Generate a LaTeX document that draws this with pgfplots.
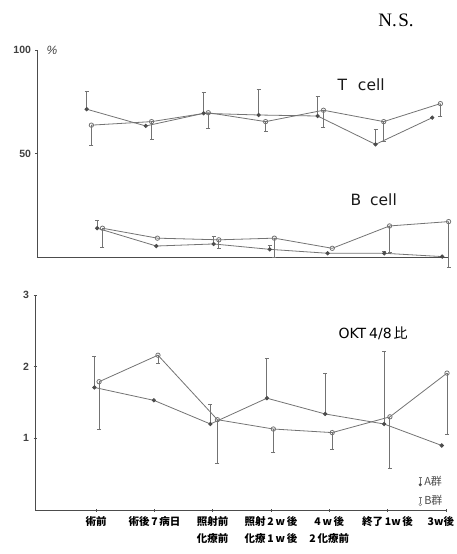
\documentclass[border=0pt]{standalone}
\usepackage{pgfplots}
\pgfplotsset{compat=1.18}
\usepackage{fontspec}
\setmainfont{Liberation Sans}
\newfontfamily\cjk{Noto Sans CJK JP}
\newfontfamily\dvs{DejaVu Sans}
\newfontfamily\serifn{Liberation Serif}
\definecolor{ln}{gray}{0.45}
\definecolor{ax}{gray}{0.3}
\pgfplotsset{
  base/.style={scale only axis, clip=false,
    axis x line=bottom, axis y line=left,
    axis line style={-, ax, line width=0.8pt},
    tick style={ax, line width=0.6pt},
    major tick length=3pt,
    /pgf/number format/assume math mode=true,
    yticklabel style={font=\bfseries\fontsize{10.5}{10}\selectfont, text=gray!50!black, xshift=-1pt},
  },
  sA/.style={ln, line width=0.8pt, mark=*, mark size=1.7pt, mark options={fill=ax, draw=ax}},
  sB/.style={ln, line width=0.8pt, mark=o, mark size=2.2pt, mark options={fill=white, draw=ln}},
  ebA/.style={draw=none, forget plot, error bars/.cd, y dir=plus, y explicit,
    error mark=-, error mark options={ln, rotate=90, line width=0.8pt, mark size=2pt},
    error bar style={ln, line width=0.9pt}},
  ebB/.style={draw=none, forget plot, error bars/.cd, y dir=minus, y explicit,
    error mark=-, error mark options={ln, rotate=90, line width=0.8pt, mark size=2pt},
    error bar style={ln, line width=0.9pt}},
}
\begin{document}
\begin{tikzpicture}
\path[use as bounding box] (0,0) rectangle (457pt,554pt);
% ---------------- top panel ----------------
\begin{axis}[base, at={(37pt,297pt)}, anchor=south west,
  width=411pt, height=207pt, xmin=-0.9, xmax=6.13, ymin=0, ymax=100,
  xtick=\empty, ytick={50,100}]
% T cell
\addplot[ebA] coordinates {(-0.05,71.4) +- (0,8.6) (1.95,69.4) +- (0,10) (2.89,68.6) +- (0,12.4) (3.9,68.1) +- (0,9.7) (4.89,54.4) +- (0,7.3)};
\addplot[ebB] coordinates {(0.03,63.7) +- (0,9.7) (1.06,65.4) +- (0,8.6) (2.03,69.7) +- (0,7.7) (3.01,65.4) +- (0,4.9) (4.0,70.9) +- (0,8.1) (5.03,65.4) +- (0,9.4) (6.0,74.1) +- (0,6)};
\addplot[sA] coordinates {(-0.05,71.4) (0.96,63.3) (1.95,69.4) (2.89,68.6) (3.9,68.1) (4.89,54.4) (5.86,67.3)};
\addplot[sB] coordinates {(0.03,63.7) (1.06,65.4) (2.03,69.7) (3.01,65.4) (4.0,70.9) (5.03,65.4) (6.0,74.1)};
% B cell
\addplot[ebA] coordinates {(0.13,13.9) +- (0,3.7) (2.12,6.3) +- (0,3.6) (3.08,3.7) +- (0,2.1) (5.04,1.8) +- (0,1.0)};
\addplot[ebB] coordinates {(0.22,13.9) +- (0,9.2) (2.21,8.3) +- (0,4.1) (3.16,9.1) +- (0,9.1) (5.13,15.0) +- (0,13) (6.14,17.1) +- (0,22)};
\addplot[sA] coordinates {(0.13,13.9) (1.14,5.3) (2.12,6.3) (3.08,3.7) (4.07,1.8) (5.04,1.8) (6.03,0.2)};
\addplot[sB] coordinates {(0.22,13.9) (1.16,9.1) (2.21,8.3) (3.16,9.1) (4.15,4.2) (5.13,15.0) (6.14,17.1)};
\end{axis}
% ---------------- bottom panel ----------------
\begin{axis}[base, at={(35pt,44pt)}, anchor=south west,
  width=412pt, height=215pt, xmin=-1.05, xmax=6.02, ymin=0, ymax=3,
  ytick={1,2,3}, xtick={0,1,2,3,4,5,6}, xtick align=center,
  xticklabels={術前, 術後\,7\,病日, 照射前\\化療前, 照射\,2\,w\,後\\化療\,1\,w\,後, 4\,w\,後\\2\,化療前, 終了\,1w\,後, 3w後\hspace*{10pt}},
  xticklabel style={font=\cjk\bfseries\fontsize{10.5}{17}\selectfont, align=center, yshift=-1pt},
  legend style={at={(axis cs:5.98,0.02)}, anchor=south east, draw=none, fill=none,
    font=\cjk\fontsize{11}{11}\selectfont, text=gray!60!black, row sep=5pt, inner sep=0pt},
  legend cell align=left]
\addplot[ebA] coordinates {(-0.03,1.71) +- (0,0.43) (1.96,1.20) +- (0,0.28) (2.93,1.56) +- (0,0.56) (3.93,1.34) +- (0,0.57) (4.94,1.20) +- (0,1.01)};
\addplot[ebB] coordinates {(0.05,1.79) +- (0,0.66) (1.06,2.16) +- (0,0.11) (2.08,1.26) +- (0,0.61) (3.04,1.13) +- (0,0.32) (4.05,1.08) +- (0,0.24) (5.04,1.30) +- (0,0.72) (6.02,1.91) +- (0,0.85)};
\addplot[sA, forget plot] coordinates {(-0.03,1.71) (0.99,1.53) (1.96,1.20) (2.93,1.56) (3.93,1.34) (4.94,1.20) (5.93,0.90)};
\addplot[sB, forget plot] coordinates {(0.05,1.79) (1.06,2.16) (2.08,1.26) (3.04,1.13) (4.05,1.08) (5.04,1.30) (6.02,1.91)};
\addlegendimage{legend image code/.code={
  \draw[ln, line width=0.9pt] (0.3cm,-3.5pt)--(0.3cm,4pt);
  \draw[ln, line width=0.8pt] (0.3cm-1.6pt,4pt)--(0.3cm+1.6pt,4pt);
  \fill[ax] (0.3cm,-3.5pt) circle (1.4pt);}}
\addlegendentry{A群}
\addlegendimage{legend image code/.code={
  \draw[ln, line width=0.9pt] (0.3cm,-3.5pt)--(0.3cm,4pt);
  \draw[ln, line width=0.8pt] (0.3cm-1.6pt,4pt)--(0.3cm+1.6pt,4pt);
  \draw[ln, fill=white] (0.3cm,-3.5pt) circle (1.4pt);}}
\addlegendentry{B群}
\end{axis}
% ---------------- texts ----------------
\node at (396pt,534pt) {\serifn\fontsize{19}{19}\selectfont N.\hspace{1.5pt}S.};
\node[gray!50!black] at (52pt,504pt) {\fontsize{12}{12}\selectfont\itshape \%};
\node[anchor=west, gray!20!black] at (334pt,469pt) {\dvs\fontsize{15.5}{15}\selectfont T\hspace{11pt}cell};
\node[anchor=west, gray!20!black] at (347pt,354pt) {\dvs\fontsize{15.5}{15}\selectfont B\hspace{9pt}cell};
\node[anchor=west] at (335pt,221pt) {\dvs\fontsize{14}{14}\selectfont OKT\hspace{3pt}4/8\hspace{2pt}{\cjk 比}};
\end{tikzpicture}
\end{document}
